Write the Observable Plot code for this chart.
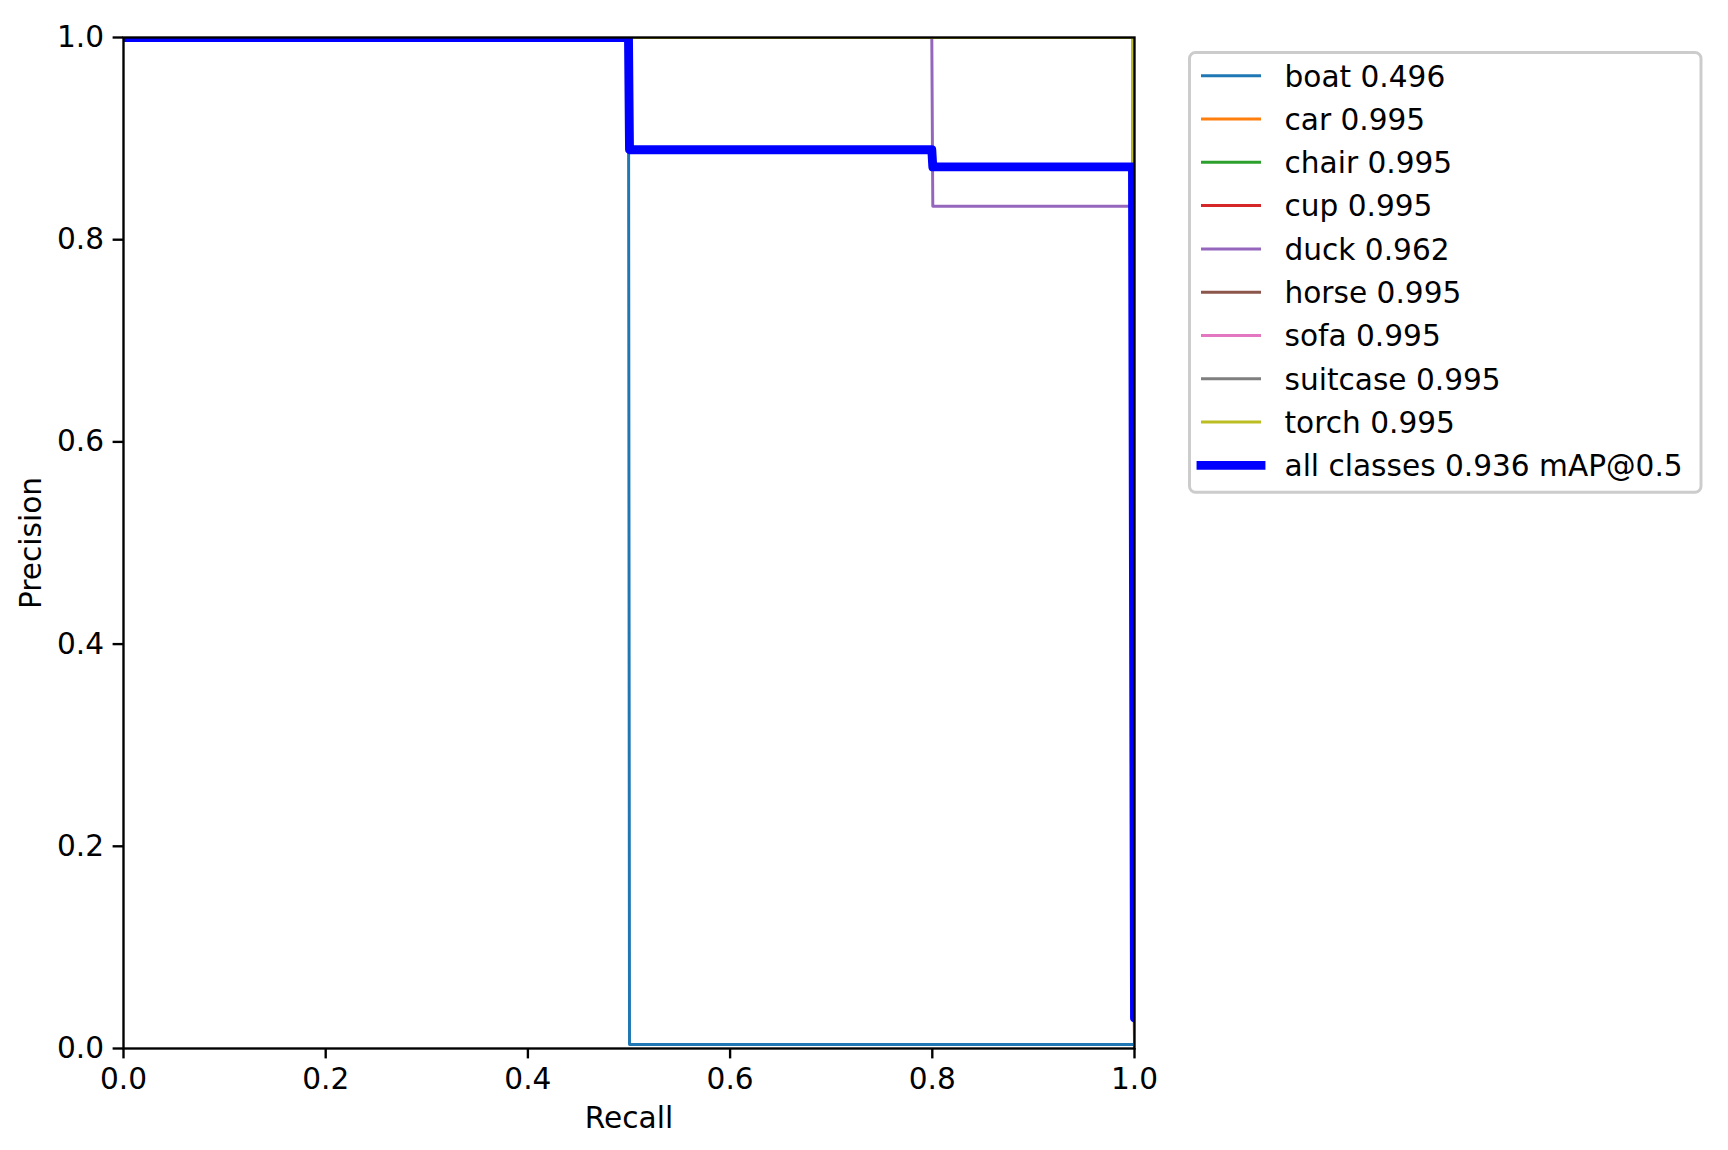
<!DOCTYPE html>
<html>
<head>
<meta charset="utf-8">
<script src="https://cdn.jsdelivr.net/npm/d3@7"></script>
<script src="https://cdn.jsdelivr.net/npm/@observablehq/plot@0.6"></script>
<style>
  html, body { margin: 0; padding: 0; background: #fff; }
  #wrap { position: relative; width: 1728px; height: 1150px; }
  #legend { position: absolute; left: 0; top: 0; }
</style>
</head>
<body>
<div id="wrap"></div>
<script>
// ---- data ----
const classNames = ["boat", "car", "chair", "cup", "duck", "horse", "sofa", "suitcase", "torch"];
const classAP = [0.496, 0.995, 0.995, 0.995, 0.962, 0.995, 0.995, 0.995, 0.995];
const classColors = ["#1f77b4", "#ff7f0e", "#2ca02c", "#d62728", "#9467bd", "#8c564b", "#e377c2", "#7f7f7f", "#bcbd22"];

const boatRecall = [0, 0.4995, 0.5005, 1.0];
const boatPrecision = [1, 1, 0.004, 0.004];
const duckRecall = [0, 0.7995, 0.8005, 0.998, 1.0];
const duckPrecision = [1, 1, 0.833, 0.833, 0.0];
const fullRecall = [0, 0.998, 1.0];          // car, chair, cup, horse, sofa, suitcase, torch
const fullPrecision = [1, 1, 0.0];

const allRecall = [0, 0.4995, 0.5005, 0.7995, 0.8005, 0.998, 1.0];
const allPrecision = [1, 1, 0.889, 0.889, 0.872, 0.872, 0.03];
const allLabel = "all classes 0.936 mAP@0.5";
const allColor = "#0000ff";

const xTicks = [0, 0.2, 0.4, 0.6, 0.8, 1.0];
const yTicks = [0, 0.2, 0.4, 0.6, 0.8, 1.0];

// ---- build tables ----
function curveFor(name) {
  if (name === "boat") return [boatRecall, boatPrecision];
  if (name === "duck") return [duckRecall, duckPrecision];
  return [fullRecall, fullPrecision];
}
const classRows = [];
classNames.forEach((name, i) => {
  const [r, p] = curveFor(name);
  r.forEach((x, j) => classRows.push({cls: name, idx: i, recall: x, precision: p[j]}));
});
const allRows = allRecall.map((x, j) => ({recall: x, precision: allPrecision[j]}));

const W = 1728, H = 1150;
const fs = 29.6;
const pt = 2.96;

const chart = Plot.plot({
  width: W,
  height: H,
  marginLeft: 123,
  marginTop: 37,
  marginRight: W - 1134,
  marginBottom: H - 1048,
  style: {fontFamily: "'DejaVu Sans', sans-serif", fontSize: fs + "px", background: "#fff", color: "#000", overflow: "visible"},
  x: {domain: [0, 1]},
  y: {domain: [0, 1]},
  color: {domain: classNames, range: classColors},
  marks: [
    ...classNames.map((name, i) =>
      Plot.line(classRows.filter(d => d.cls === name), {
        x: "recall", y: "precision", stroke: classColors[i], strokeWidth: pt, clip: true
      })
    ),
    Plot.line(allRows, {x: "recall", y: "precision", stroke: allColor, strokeWidth: 3 * pt, clip: true}),
    Plot.axisX({ticks: xTicks, tickFormat: d3.format(".1f"), tickSize: 10.4, tickPadding: 9, strokeWidth: 0.8 * pt, label: null, fontSize: fs}),
    Plot.axisY({ticks: yTicks, tickFormat: d3.format(".1f"), tickSize: 10.4, tickPadding: 9, strokeWidth: 0.8 * pt, label: null, fontSize: fs}),
    Plot.frame({stroke: "#000", strokeWidth: 0.8 * pt}),
    Plot.text(["Recall"], {frameAnchor: "bottom", dy: 70, lineAnchor: "middle", textAnchor: "middle", text: d => d, fontSize: fs}),
    Plot.text(["Precision"], {frameAnchor: "left", dx: -92, rotate: -90, lineAnchor: "middle", textAnchor: "middle", text: d => d, fontSize: fs})
  ]
});

const wrap = document.getElementById("wrap");
wrap.appendChild(chart);

// ---- legend (upper left, outside the axes) ----
const legendItems = classNames.map((n, i) => ({label: `${n} ${classAP[i].toFixed(3)}`, color: classColors[i], width: pt, cap: "butt"}))
  .concat([{label: allLabel, color: allColor, width: 3 * pt, cap: "square"}]);

const svg = d3.select(wrap).append("svg")
  .attr("id", "legend")
  .attr("width", W).attr("height", H)
  .style("pointer-events", "none")
  .style("font-family", "'DejaVu Sans', sans-serif")
  .style("font-size", fs + "px");

svg.append("rect")
  .attr("x", 1189.5).attr("y", 52.5).attr("width", 1701 - 1189.5).attr("height", 492.3 - 52.5)
  .attr("rx", 6).attr("ry", 6)
  .attr("fill", "rgba(255,255,255,0.8)")
  .attr("stroke", "#cccccc").attr("stroke-width", pt);

const row0 = 75.7, rowStep = 43.3;
legendItems.forEach((it, i) => {
  const cy = row0 + i * rowStep;
  svg.append("line")
    .attr("x1", 1201).attr("x2", 1261).attr("y1", cy).attr("y2", cy)
    .attr("stroke", it.color).attr("stroke-width", it.width).attr("stroke-linecap", it.cap);
  svg.append("text")
    .attr("x", 1284.5).attr("y", cy + 10.8)
    .attr("fill", "#000")
    .text(it.label);
});
</script>
</body>
</html>
